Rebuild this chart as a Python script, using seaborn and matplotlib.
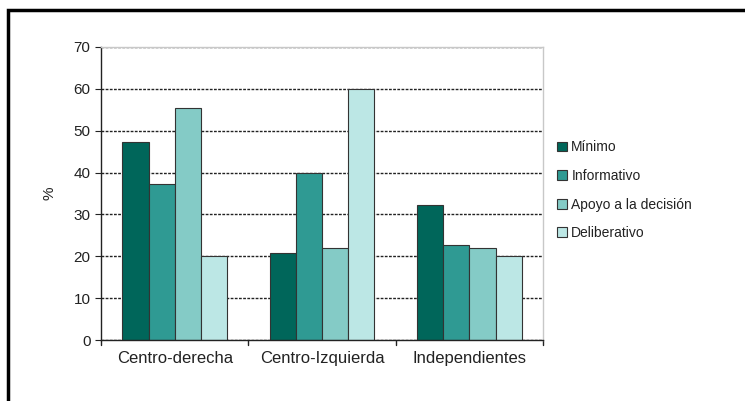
import pandas as pd
import numpy as np

import matplotlib
matplotlib.use("Agg")
import matplotlib.pyplot as plt
import seaborn as sns
from matplotlib.patches import Rectangle

grupos = ["Centro-derecha", "Centro-Izquierda", "Independientes"]
series = ["Mínimo", "Informativo", "Apoyo a la decisión", "Deliberativo"]
minimo = [47.2, 20.8, 32.2]
informativo = [37.2, 40.0, 22.7]
apoyo = [55.5, 22.0, 22.0]
deliberativo = [20.0, 60.0, 20.0]
colores = ["#00665a", "#2f9a93", "#84cbc6", "#bce7e5"]

df = pd.DataFrame({
    "grupo": grupos * 4,
    "serie": np.repeat(series, 3),
    "valor": minimo + informativo + apoyo + deliberativo,
})

sns.set_style("white")
plt.rcParams["font.family"] = ["Liberation Sans", "DejaVu Sans"]

fig = plt.figure(figsize=(7.45, 4.01), dpi=100)
ax = fig.add_axes([0.1356, 0.152, 0.5933, 0.7308])

sns.barplot(data=df, x="grupo", y="valor", hue="serie", palette=colores,
            width=0.71, edgecolor="#333333", linewidth=0.8, ax=ax, saturation=1)

ax.set_ylim(0, 70)
ax.set_xlim(-0.5, 2.5)
ax.set_yticks(range(0, 71, 10))
ax.set_axisbelow(True)
ax.yaxis.grid(True, linestyle=(0, (2, 1)), color="#222222", linewidth=1)
ax.xaxis.grid(False)
ax.set_xlabel("")
ax.set_ylabel("%", fontsize=11, color="#222222", labelpad=12)
ax.tick_params(axis="y", labelsize=11, colors="#222222", length=4, direction="out", left=True)
ax.tick_params(axis="x", labelsize=12, colors="#222222", length=0, pad=8)
for x in [-0.5, 0.5, 1.5, 2.5]:
    ax.plot([x, x], [0, -1.3], color="#222222", lw=1, clip_on=False)

for s in ["left", "bottom"]:
    ax.spines[s].set_color("#222222")
    ax.spines[s].set_linewidth(1)
for s in ["top", "right"]:
    ax.spines[s].set_color("#c8c8c8")
    ax.spines[s].set_linewidth(1)

leg = ax.legend(loc="upper left", bbox_to_anchor=(1.02, 0.70), frameon=False,
                fontsize=10, handlelength=0.7, handleheight=0.7, handletextpad=0.3,
                labelspacing=1.05, borderaxespad=0)
for t in leg.get_texts():
    t.set_color("#222222")

fig.patches.append(Rectangle((8 / 745, -0.05), 1.05, 1 - 10 / 401 + 0.05,
                             transform=fig.transFigure, fill=False,
                             edgecolor="black", linewidth=2.5))

fig.savefig("out.png", dpi=100)
